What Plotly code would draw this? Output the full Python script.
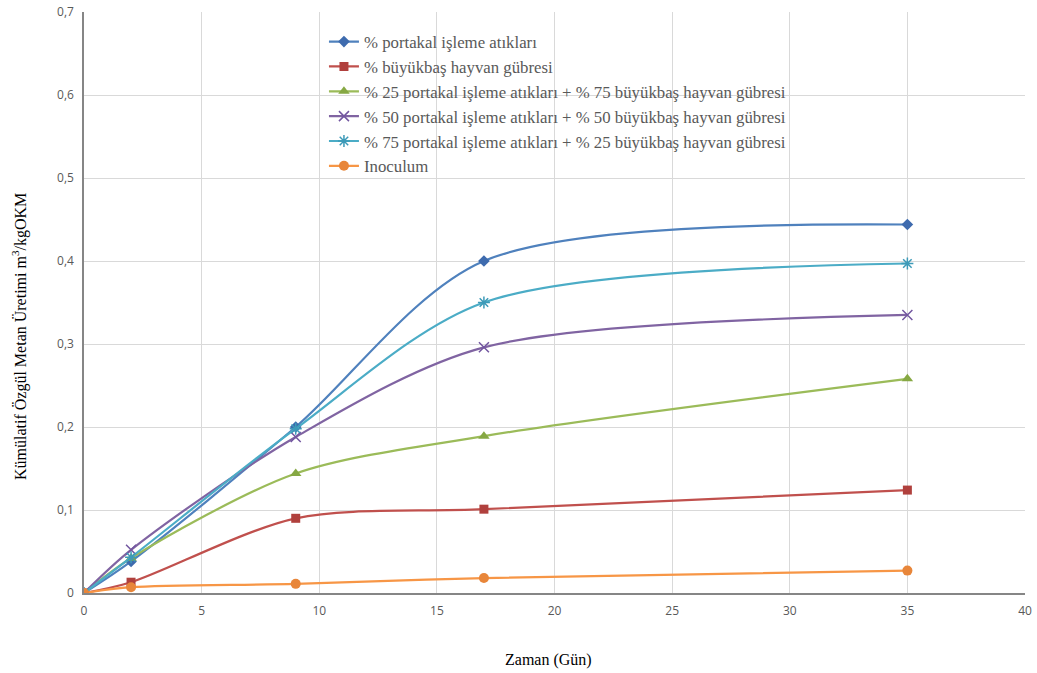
import plotly.graph_objects as go

days = [0, 2, 9, 17, 35]
portakal = [0, 0.038, 0.200, 0.400, 0.444]
buyukbas = [0, 0.013, 0.090, 0.101, 0.124]
mix_25_75 = [0, 0.042, 0.144, 0.189, 0.258]
mix_50_50 = [0, 0.052, 0.188, 0.296, 0.335]
mix_75_25 = [0, 0.043, 0.198, 0.350, 0.397]
inoculum = [0, 0.007, 0.011, 0.018, 0.027]

names = [
    "% portakal işleme atıkları",
    "% büyükbaş hayvan gübresi",
    "% 25 portakal işleme atıkları + % 75 büyükbaş hayvan gübresi",
    "% 50 portakal işleme atıkları + % 50 büyükbaş hayvan gübresi",
    "% 75 portakal işleme atıkları + % 25 büyükbaş hayvan gübresi",
    "Inoculum",
]
series = [portakal, buyukbas, mix_25_75, mix_50_50, mix_75_25, inoculum]
line_colors = ["#4F81BD", "#C0504D", "#9BBB59", "#8064A2", "#4BACC6", "#F79646"]
marker_colors = ["#3E6BAE", "#B0403D", "#86A843", "#7256A0", "#3D9AB8", "#E8863A"]
symbols = ["diamond", "square", "triangle-up", "x-thin", "asterisk", "circle"]
sizes = [9, 9, 10, 10, 10, 10]

fig = go.Figure()
for name, ys, lc, mc, sym, sz in zip(names, series, line_colors, marker_colors, symbols, sizes):
    marker = dict(symbol=sym, size=sz, color=mc)
    if sym in ("x-thin", "asterisk"):
        marker["line"] = dict(color=mc, width=1.5)
    fig.add_trace(go.Scatter(
        x=days, y=ys, name=name, mode="lines+markers",
        line=dict(color=lc, width=2.2, shape="spline", smoothing=0.85),
        marker=marker,
    ))

fig.update_layout(
    width=1037, height=673,
    margin=dict(l=84, r=12, t=12, b=80),
    paper_bgcolor="white", plot_bgcolor="white",
    separators=", ",
    legend=dict(
        x=0.255, y=0.979, xanchor="left", yanchor="top",
        bgcolor="rgba(0,0,0,0)",
        font=dict(family="Liberation Serif", size=16.8, color="#595959"),
        tracegroupgap=0, itemwidth=30,
    ),
    xaxis=dict(
        range=[0, 40], dtick=5, tick0=0, automargin=False,
        showgrid=True, gridcolor="#D9D9D9", gridwidth=1,
        showline=True, linecolor="#868686", linewidth=1.5,
        zeroline=False, ticks="", ticklabelstandoff=6,
        tickfont=dict(family="Open Sans", size=12, color="#595959"),
    ),
    yaxis=dict(
        range=[0, 0.7], dtick=0.1, tick0=0, automargin=False,
        showgrid=True, gridcolor="#D9D9D9", gridwidth=1,
        showline=True, linecolor="#868686", linewidth=1.5,
        zeroline=False, ticks="", tickformat=".1~f", ticklabelstandoff=6,
        tickfont=dict(family="Open Sans", size=12, color="#595959"),
    ),
    annotations=[
        dict(text="Zaman (Gün)", xref="paper", yref="paper",
             x=(548 - 84) / 941, y=-(660 - 593) / 581,
             xanchor="center", yanchor="middle", showarrow=False,
             font=dict(family="Liberation Serif", size=16, color="#000000")),
        dict(text="Kümülatif Özgül Metan Üretimi m<sup>3</sup>/kgOKM", xref="paper", yref="paper",
             x=-(84 - 19) / 941, y=(593 - 337) / 581, textangle=-90,
             xanchor="center", yanchor="middle", showarrow=False,
             font=dict(family="Liberation Serif", size=16, color="#000000")),
    ],
)

fig.write_html("out.html")
